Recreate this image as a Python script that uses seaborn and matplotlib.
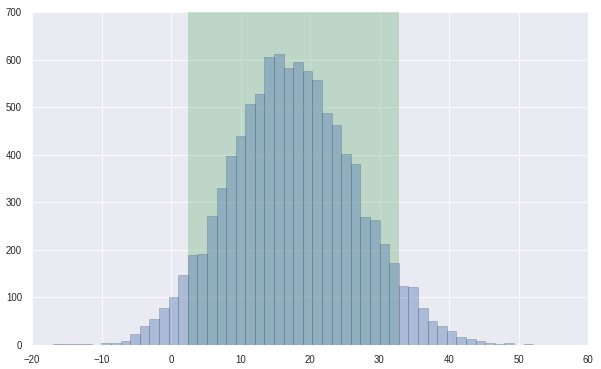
import numpy as np
import pandas as pd
import matplotlib
matplotlib.use("Agg")
import matplotlib.pyplot as plt
import seaborn as sns

# Histogram data (counts per bin)
counts = [3, 2, 2, 2, 0, 4, 4, 9, 23, 40, 55, 78, 101, 148,
          189, 191, 271, 330, 397, 439, 507, 528, 605, 612, 582, 595,
          575, 558, 488, 462, 402, 380, 269, 263, 212, 172,
          125, 122, 78, 50, 40, 30, 17, 13, 9, 5, 3, 5, 0, 2]
bin_start = -16.93
bin_width = 1.381
span_lo = 2.45
span_hi = 32.78
x_ticks = [-20, -10, 0, 10, 20, 30, 40, 50, 60]
y_ticks = [0, 100, 200, 300, 400, 500, 600, 700]

sns.set_theme(style="darkgrid")
plt.rcParams['font.family'] = ['Liberation Sans', 'DejaVu Sans']

n = len(counts)
edges = bin_start + bin_width * np.arange(n + 1)
centers = (edges[:-1] + edges[1:]) / 2
df = pd.DataFrame({"x": centers, "w": counts})

fig = plt.figure(figsize=(601 / 60, 369 / 60), dpi=60)
ax = fig.add_axes([32 / 601, 1 - 345 / 369, 556 / 601, 333 / 369])

ax.axvspan(span_lo, span_hi, color="#55A868", alpha=0.3, lw=0, zorder=0.7)
sns.histplot(data=df, x="x", weights="w", bins=n,
             binrange=(float(edges[0]), float(edges[-1])), ax=ax,
             color="#4C72B0", alpha=0.4,
             edgecolor=(0.25, 0.3, 0.4, 0.3), linewidth=1.0)
for p in ax.patches[1:]:
    p.set_zorder(1)

ax.set_xlim(-20, 60)
ax.set_ylim(0, 700)
ax.set_xticks(x_ticks)
ax.set_yticks(y_ticks)
ax.set_xticklabels([str(t).replace("-", "\u2212") for t in x_ticks])
ax.set_xlabel("")
ax.set_ylabel("")
ax.tick_params(labelsize=11.5, colors="#262626", pad=6)
for s in ax.spines.values():
    s.set_visible(False)
ax.grid(True, color="white", lw=1)

fig.savefig("out.png", dpi=60)
